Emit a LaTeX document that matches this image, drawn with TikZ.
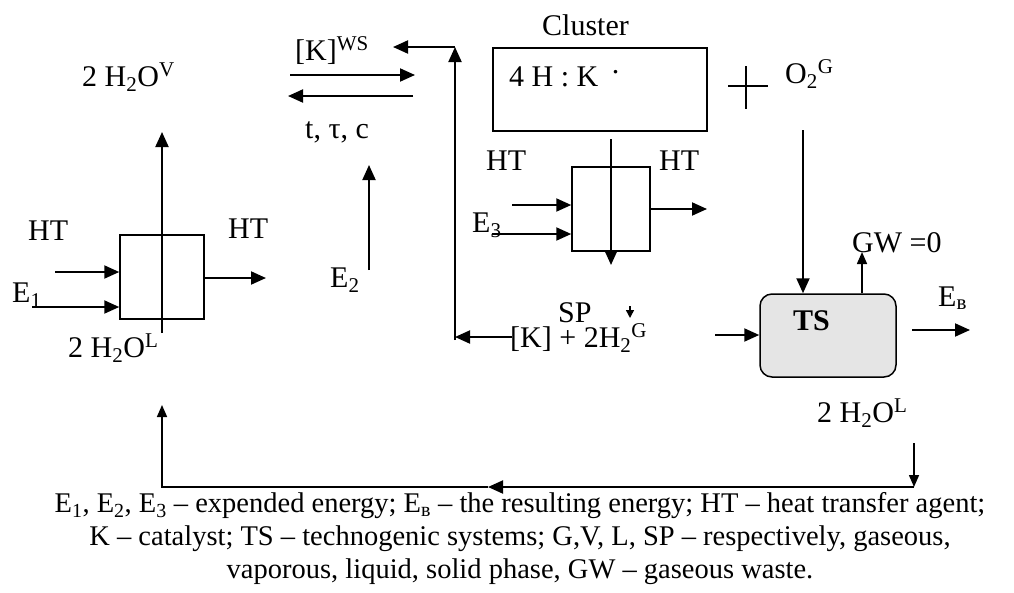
\documentclass[tikz,border=0pt]{standalone}
\usepackage{fontspec}
\setmainfont{Liberation Serif}
\usetikzlibrary{arrows.meta}
\begin{document}
\begin{tikzpicture}[x=1pt,y=-1pt,
  lbl/.style={anchor=base west, inner sep=0pt, font=\fontsize{30}{36}\selectfont},
  arr/.style={line width=2pt, -{Triangle[length=15pt,width=13pt]}},
  sarr/.style={line width=1.6pt, -{Triangle[length=12pt,width=10pt]}},
  plain/.style={line width=2pt},
  box/.style={draw, line width=1.5pt, inner sep=0pt},
]
\useasboundingbox (0,0) rectangle (1014,592);

% boxes
\node[box, minimum width=84pt, minimum height=84pt] (leftbox) at (162,277) {};
\node[box, minimum width=214pt, minimum height=83pt] (clusterbox) at (600,89.5) {};
\node[box, minimum width=78pt, minimum height=84pt] (midbox) at (611,209) {};
\node[box, minimum width=136pt, minimum height=83pt, rounded corners=12pt, fill=black!10] (tsbox) at (828,335.5) {};

% labels
\node[lbl] (h2ov) at (82,86) {2 H\textsubscript{2}O\textsuperscript{V}};
\node[lbl] (kws) at (295,60) {[K]\textsuperscript{WS}};
\node[lbl] (ttc) at (305,138) {t, τ, c};
\node[lbl] (htl1) at (28,240) {HT};
\node[lbl] (htr1) at (228,238) {HT};
\node[lbl] (e1) at (12,302) {E\textsubscript{1}};
\node[lbl] (h2ol1) at (68,357) {2 H\textsubscript{2}O\textsuperscript{L}};
\node[lbl] (e2) at (330,287) {E\textsubscript{2}};
\node[lbl] (cluster) at (542,35) {Cluster};
\node[lbl] (hk) at (509,86) {4 H : K\hspace{0.45em}\raisebox{0.42em}{.}};
\node[lbl] (o2g) at (785,83) {O\textsubscript{2}\textsuperscript{G}};
\node[lbl] (htl2) at (486,170) {HT};
\node[lbl] (htr2) at (659,170) {HT};
\node[lbl] (e3) at (472,232) {E\textsubscript{3}};
\node[lbl] (gw) at (852,252) {GW =0};
\node[lbl, font=\fontsize{30}{36}\selectfont\bfseries] (tslbl) at (793,330) {TS};
\node[lbl] (eb) at (938,306) {E\textsubscript{в}};
\node[lbl] (sp) at (558,322) {SP};
\node[lbl] (kh2) at (510,347) {[K] + 2H\textsubscript{2}\textsuperscript{G}};
\node[lbl] (h2ol2) at (817,422) {2 H\textsubscript{2}O\textsuperscript{L}};

\node[inner sep=0pt, align=center, font=\fontsize{28.5}{33}\selectfont] (caption) at (520,539)
 {E\textsubscript{1}, E\textsubscript{2}, E\textsubscript{3} – expended energy; E\textsubscript{в} – the resulting energy; HT – heat transfer agent;\\
  K – catalyst; TS – technogenic systems; G,V, L, SP – respectively, gaseous,\\
  vaporous, liquid, solid phase, GW – gaseous waste.};

% coordinates
\coordinate (a1s) at (162,333); \coordinate (a1e) at (162,132);
\coordinate (htin1) at (55,272); \coordinate (htin1e) at (leftbox.west |- htin1);
\coordinate (e1in) at (32,307); \coordinate (e1ine) at (leftbox.west |- e1in);
\coordinate (out1s) at (leftbox.east |- 0,278); \coordinate (out1e) at (266,278);
\coordinate (e2s) at (369,270); \coordinate (e2e) at (369,165);
\coordinate (r1s) at (290,75); \coordinate (r1e) at (415,75);
\coordinate (r2s) at (413,96); \coordinate (r2e) at (288,96);
\coordinate (vbot) at (455,340); \coordinate (vtop) at (455,47); \coordinate (vleft) at (393,47);
\coordinate (kbs) at (512,337); \coordinate (kbe) at (455,337);
\coordinate (c1s) at (611,139); \coordinate (c1e) at (611,265);
\coordinate (htin2) at (512,205); \coordinate (htin2e) at (midbox.west |- htin2);
\coordinate (e3in) at (492,234); \coordinate (e3ine) at (midbox.west |- e3in);
\coordinate (out2s) at (midbox.east |- 0,209); \coordinate (out2e) at (707,209);
\coordinate (o2s) at (803,130); \coordinate (o2e) at (tsbox.north -| o2s);
\coordinate (gws) at (tsbox.north -| 862,0); \coordinate (gwe) at (862,252);
\coordinate (tsin) at (715,335); \coordinate (tsine) at (tsbox.west |- tsin);
\coordinate (ebs) at (912,330); \coordinate (ebe) at (970,330);
\coordinate (sds) at (630,306); \coordinate (sde) at (630,318);
\coordinate (pl1) at (728,86); \coordinate (pl2) at (768,86);
\coordinate (pl3) at (746,66); \coordinate (pl4) at (746,109);
\coordinate (lp1) at (914,443); \coordinate (lp2) at (914,487);
\coordinate (lpm) at (488,487); \coordinate (lp3) at (162,487); \coordinate (lp4) at (162,405);

% connectors
\draw[arr] (a1s) -- (a1e);
\draw[arr] (htin1) -- (htin1e);
\draw[arr] (e1in) -- (e1ine);
\draw[arr] (out1s) -- (out1e);
\draw[arr] (e2s) -- (e2e);
\draw[arr] (r1s) -- (r1e);
\draw[arr] (r2s) -- (r2e);
\draw[arr] (vbot) -- (vtop);
\draw[arr] (vtop) -- (vleft);
\draw[arr] (kbs) -- (kbe);
\draw[arr] (c1s) -- (c1e);
\draw[arr] (htin2) -- (htin2e);
\draw[arr] (e3in) -- (e3ine);
\draw[arr] (out2s) -- (out2e);
\draw[arr] (o2s) -- (o2e);
\draw[sarr] (gws) -- (gwe);
\draw[arr] (tsin) -- (tsine);
\draw[arr] (ebs) -- (ebe);
\draw[line width=1.5pt, -{Triangle[length=8pt,width=8pt]}] (sds) -- (sde);
\draw[line width=1.5pt] (pl1) -- (pl2) (pl3) -- (pl4);
\draw[sarr] (lp1) -- (lp2);
\draw[arr] (lp2) -- (lpm);
\draw[sarr] (lpm) -- (lp3) -- (lp4);
\end{tikzpicture}
\end{document}
